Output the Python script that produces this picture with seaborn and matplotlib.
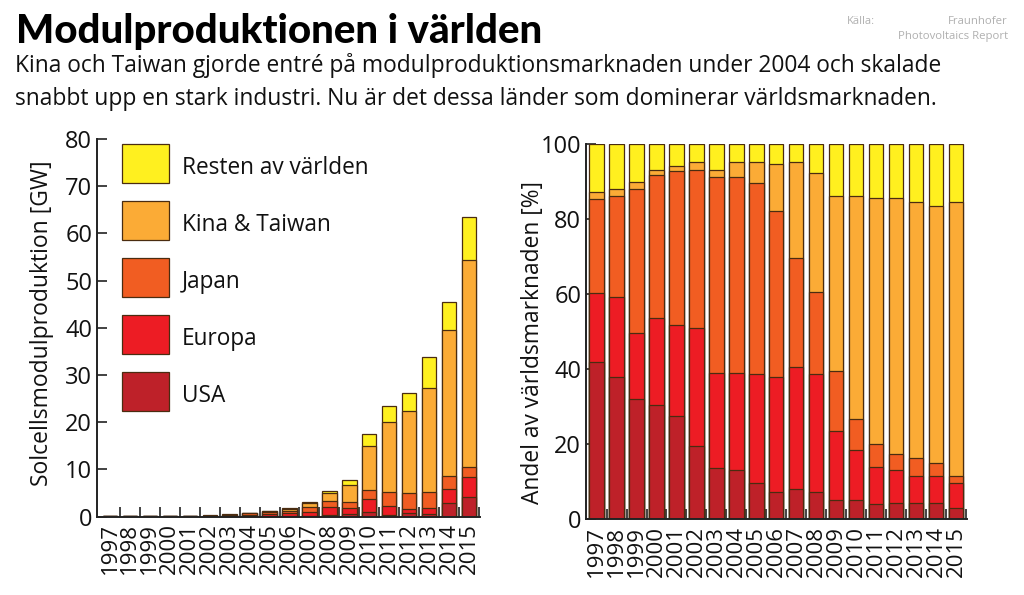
import numpy as np, pandas as pd
import matplotlib
matplotlib.use("Agg")
import matplotlib.pyplot as plt
import seaborn as sns
from matplotlib.ticker import FixedLocator

years = [str(y) for y in range(1997, 2016)]
series_names = ["Resten av världen", "Kina & Taiwan", "Japan", "Europa", "USA"]
colors = ["#FFF01F", "#FBAB36", "#F15D22", "#ED1C24", "#BE2129"]

# GW
gw_usa   = [.01,.01,.01,.02,.03,.04,.05,.08,.10,.10,.20,.35,.50,.90,.40,.70,.60,2.8,4.1]
gw_eu    = [.01,.01,.01,.02,.03,.05,.10,.20,.40,.60,.85,1.65,1.2,2.8,1.9,.90,1.1,3.0,4.2]
gw_jp    = [.01,.01,.02,.03,.05,.10,.25,.40,.50,.50,.95,1.3,1.3,2.0,2.8,3.4,3.4,2.7,2.2]
gw_kt    = [.00,.00,.00,.00,.00,.01,.02,.05,.10,.40,.85,1.6,3.6,9.2,14.9,17.3,22.1,31.0,43.9]
gw_rest  = [.00,.00,.00,.01,.01,.02,.04,.07,.10,.10,.15,.4,1.2,2.5,3.5,3.9,6.7,5.9,9.1]

# %
pct_usa  = [42,38,32.1,30.5,27.6,19.4,13.6,13,9.6,7.2,8.1,7.2,5.1,5.1,4,4.4,4.4,4.4,3]
pct_eu   = [18.2,21.2,17.5,23,24.1,31.6,25.4,26,29,30.8,32.5,31.4,18.4,13.3,9.9,8.6,7.1,7.1,6.5]
pct_jp   = [25.1,27,38.4,38.2,41,42.2,52.1,52.1,51,44.1,28.9,22,16.1,8.2,6.1,4.4,4.9,3.5,2]
pct_kt   = [1.8,1.8,2,1.5,1.5,1.9,1.9,4,5.5,12.5,25.6,31.6,46.5,59.6,65.5,68.1,68.2,68.5,73.1]
pct_rest = [12.9,12,10,6.8,5.8,4.9,7,4.9,4.9,5.4,4.9,7.8,13.9,13.8,14.5,14.5,15.4,16.5,15.4]

FS = ["Open Sans", "DejaVu Sans"]
plt.rcParams["font.family"] = FS
W, H = 1024, 595
fig = plt.figure(figsize=(W/100, H/100), dpi=100)

def make_ax(l, r, t, b):
    return fig.add_axes([l/W, 1-b/H, (r-l)/W, (b-t)/H])

def draw(ax, rows, ymax, yticks, ylabel, label_size, label_x, label_y):
    tops = np.cumsum(rows[::-1], axis=0)[::-1]
    for name, col, top in zip(series_names, colors, tops):
        df = pd.DataFrame({"year": years, "v": top})
        sns.barplot(data=df, x="year", y="v", ax=ax, color=col, saturation=1,
                    width=0.72, edgecolor="#4a2c10", linewidth=0.9, label=name, zorder=3)
    ax.set_ylim(0, ymax)
    ax.set_yticks(yticks)
    ax.set_xlabel("")
    ax.set_ylabel(ylabel, fontsize=label_size, color="#111111")
    ax.yaxis.set_label_coords(label_x, label_y)
    ax.xaxis.set_minor_locator(FixedLocator(np.arange(0.5, 19, 1)))
    ax.tick_params(axis="x", which="major", length=0, labelsize=16, labelrotation=90, pad=5, colors="#111111")
    ax.tick_params(axis="x", which="minor", direction="in", length=7.5, width=1.2, color="#222222")
    ax.tick_params(axis="y", direction="in", length=7, width=1.2, labelsize=17, pad=3.5, color="#222222", labelcolor="#111111")
    for s in ("top", "right"):
        ax.spines[s].set_visible(False)
    for s in ("left", "bottom"):
        ax.spines[s].set_linewidth(1.4)
        ax.spines[s].set_color("#222222")
        ax.spines[s].set_zorder(6)
    ax.set_axisbelow(True)

ax1 = make_ax(97, 480, 139, 516.5)
draw(ax1, np.array([gw_rest, gw_kt, gw_jp, gw_eu, gw_usa]), 80, range(0, 81, 10),
     "Solcellsmodulproduktion [GW]", 16.5, (54-97)/383, (516.5-323.5)/377.5)
ax1.set_xlim(-0.65, 18.55)
leg = ax1.legend(loc="upper left", bbox_to_anchor=((122-97)/383, (516.5-144)/377.5), frameon=False, borderpad=0, borderaxespad=0,
                 fontsize=16.3, handlelength=2.08, handleheight=2.27, labelspacing=0.8, handletextpad=0.55, labelcolor="#111111")
for t in leg.get_texts():
    t.set_y(-3)

ax2 = make_ax(586, 967, 144, 519)
draw(ax2, np.array([pct_rest, pct_kt, pct_jp, pct_eu, pct_usa]), 100, range(0, 101, 20),
     "Andel av världsmarknaden [%]", 16.4, (545-586)/381, (519-342)/375)
ax2.set_xlim(-0.53, 18.55)
if ax2.get_legend():
    ax2.get_legend().remove()

fig.text(16/W, 1-32/H, "Modulproduktionen i världen", fontsize=29, fontfamily=["Lato", "DejaVu Sans"], fontweight=900, va="center", ha="left", color="black")
fig.text(15/W, 1-65/H, "Kina och Taiwan gjorde entré på modulproduktionsmarknaden under 2004 och skalade", fontsize=16.4, va="center", color="#111111")
fig.text(15/W, 1-99/H, "snabbt upp en stark industri. Nu är det dessa länder som dominerar världsmarknaden.", fontsize=16.4, va="center", color="#111111")
fig.text(847/W, 1-21/H, "Källa:", fontsize=8, va="center", color="#b0b0b0")
fig.text(1008/W, 1-21/H, "Fraunhofer", fontsize=8.2, va="center", ha="right", color="#b0b0b0")
fig.text(1008/W, 1-36/H, "Photovoltaics Report", fontsize=8.2, va="center", ha="right", color="#b0b0b0")

fig.savefig("out.png", dpi=100)
